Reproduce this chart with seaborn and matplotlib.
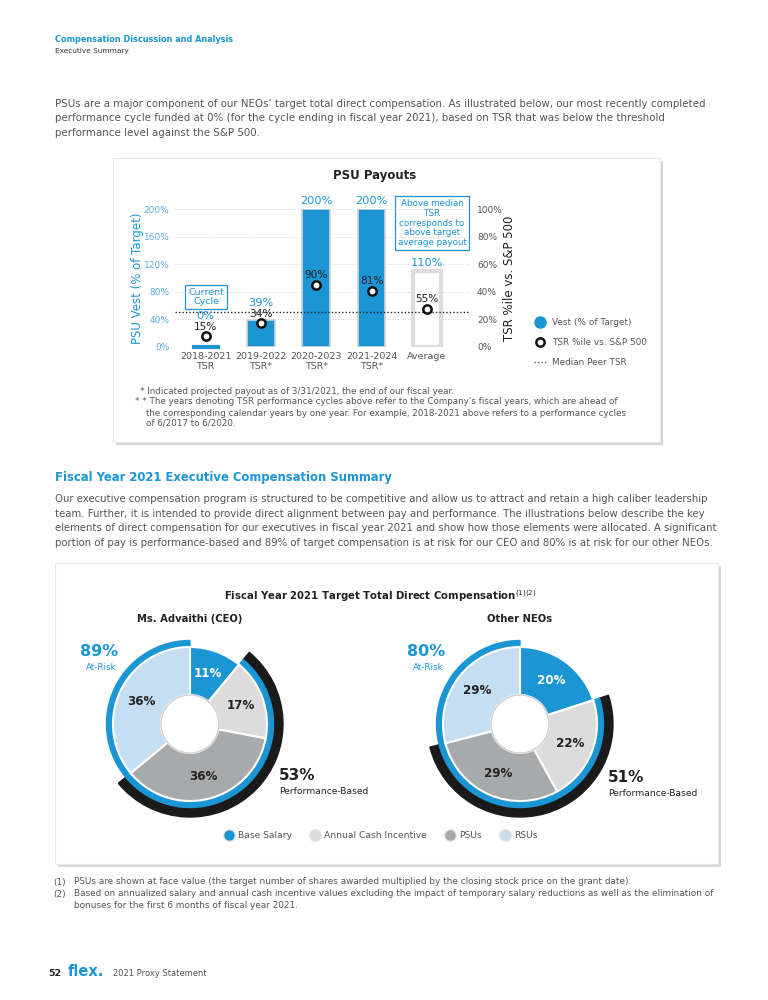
import numpy as np
import matplotlib
matplotlib.use('Agg')
import matplotlib.pyplot as plt
import seaborn as sns
from matplotlib.patches import Rectangle, Wedge, Circle
from matplotlib.lines import Line2D

# ---- data read from the page ----
cycles = ['2018-2021\nTSR', '2019-2022\nTSR*', '2020-2023\nTSR*', '2021-2024\nTSR*', 'Average']
vest_pct = [0, 39, 200, 200, 110]
tsr_pct = [15, 34, 90, 81, 55]
median_tsr = 50
left_ticks = [0, 40, 80, 120, 160, 200]
right_ticks = [0, 20, 40, 60, 80, 100]
psu_legend = ['Vest (% of Target)', 'TSR %ile vs. S&P 500', 'Median Peer TSR']

comp_parts = ['Base Salary', 'Annual Cash Incentive', 'PSUs', 'RSUs']
ceo_mix = [11, 17, 36, 36]
neo_mix = [20, 22, 29, 29]
ceo_at_risk, neo_at_risk = 89, 80
ceo_perf, neo_perf = 53, 51

BLUE = '#1b95d3'
LBLUE = '#5aaee0'
GRAY = '#555555'
DARK = '#222222'
part_colors = [BLUE, '#dcdcdc', '#a8a9ab', '#c6def1']

sns.set_theme(style='white')
plt.rcParams['font.family'] = ['DejaVu Sans']

fig = plt.figure(figsize=(7.68, 10), dpi=100)

# background axes in pixel units (y down)
bg = fig.add_axes([0, 0, 1, 1], zorder=0)
bg.set_xlim(0, 768)
bg.set_ylim(1000, 0)
bg.axis('off')


def fx(x):
    return x / 768


def fy(y):
    return 1 - y / 1000


def box(x0, y0, x1, y1):
    bg.add_patch(Rectangle((x0 + 3, y0 + 3), x1 - x0, y1 - y0, facecolor='#d6d6d6', edgecolor='none', zorder=0))
    bg.add_patch(Rectangle((x0, y0), x1 - x0, y1 - y0, facecolor='white', edgecolor='#e8e8e8', lw=0.8, zorder=1))


# ---- page text ----
bg.text(55, 40, 'Compensation Discussion and Analysis', color=BLUE, fontsize=5.9, fontweight='bold', va='center')
bg.text(55, 51, 'Executive Summary', color='#333333', fontsize=5.3, va='center')

para1 = ['PSUs are a major component of our NEOs’ target total direct compensation. As illustrated below, our most recently completed',
         'performance cycle funded at 0% (for the cycle ending in fiscal year 2021), based on TSR that was below the threshold',
         'performance level against the S&P 500.']
for i, line in enumerate(para1):
    bg.text(55, 104 + i * 14.4, line, color=GRAY, fontsize=7.42, va='center')

box(113, 158, 660, 442)
bg.text(375, 175, 'PSU Payouts', fontsize=8.5, fontweight='bold', color=DARK, ha='center', va='center')

# ---- PSU bar chart ----
ax = fig.add_axes([fx(175), fy(346.7), (470 - 175) / 768, (346.7 - 209) / 1000], zorder=2)
ax.patch.set_alpha(0)
sns.barplot(x=cycles, y=vest_pct, color=BLUE, width=0.5, saturation=1, ax=ax,
            edgecolor='#d4d4d4', linewidth=1.2)
ax.patches[0].set_edgecolor(BLUE)
ax.patches[0].set_linewidth(3)
ax.patches[0].set_clip_on(False)
ax.patches[4].set_facecolor('white')
ax.patches[4].set_edgecolor('#dddddd')
ax.patches[4].set_linewidth(3)

sns.scatterplot(x=cycles, y=tsr_pct, ax=ax, s=36, color='white', edgecolor='#111111',
                linewidth=1.8, zorder=5, legend=False)

for t in left_ticks[1:]:
    ax.axhline(t, color='#c8c8c8', ls=(0, (1, 2)), lw=0.6, zorder=0)
ax.axhline(median_tsr, color='#222222', ls=(0, (1, 1.5)), lw=1.0, zorder=1)

for i, (v, t) in enumerate(zip(vest_pct, tsr_pct)):
    ax.annotate(f'{t}%', (i, t), xytext=(0, 7), textcoords='offset points', ha='center', va='center',
                fontsize=7.6, color=DARK, zorder=6)
    ax.annotate(f'{v}%', (i, max(v, t + 17)), xytext=(0, 6), textcoords='offset points', ha='center',
                va='center', fontsize=8.2, color=BLUE, annotation_clip=False)

ax.set_ylim(0, 200)
ax.set_xlim(-0.555, 4.78)
ax.set_yticks(left_ticks)
ax.set_yticklabels([f'{t}%' for t in left_ticks], color=LBLUE, fontsize=6.5)
ax.tick_params(axis='both', length=0, pad=4)
ax.tick_params(axis='x', colors=GRAY, labelsize=6.8)
for lbl in ax.get_xticklabels():
    lbl.set_linespacing(1.15)
ax.set_xlabel('')
ax.set_ylabel('PSU Vest (% of Target)', color=BLUE, fontsize=8.5)
ax.yaxis.set_label_coords((144 - 175) / 295, 0.5)
sns.despine(ax=ax, left=True, bottom=True)

ax2 = ax.twinx()
ax2.set_ylim(0, 100)
ax2.set_yticks(right_ticks)
ax2.set_yticklabels([f'{t}%' for t in right_ticks], color=GRAY, fontsize=6.5)
ax2.tick_params(length=0, pad=5)
ax2.set_ylabel('TSR %ile vs. S&P 500', color=DARK, fontsize=8.5)
ax2.yaxis.set_label_coords((503 - 175) / 295, 0.5)
for s in ax2.spines.values():
    s.set_visible(False)

bg.text(206, 297, 'Current\nCycle', ha='center', va='center', color=BLUE, fontsize=6.8, linespacing=1.1,
        bbox=dict(boxstyle='square,pad=0.3', fc='white', ec=BLUE, lw=0.9), zorder=3)
bg.text(432, 223, 'Above median\nTSR\ncorresponds to\nabove target\naverage payout', ha='center', va='center',
        color=BLUE, fontsize=6.3, linespacing=1.1,
        bbox=dict(boxstyle='square,pad=0.3', fc='white', ec=BLUE, lw=0.9), zorder=3)

h_psu = [Line2D([], [], marker='o', ls='none', markersize=8, markerfacecolor=BLUE, markeredgecolor=BLUE),
         Line2D([], [], marker='o', ls='none', markersize=6, markerfacecolor='white', markeredgecolor='#111111',
                markeredgewidth=1.8),
         Line2D([], [], color='#555555', ls=(0, (1, 1.5)), lw=1)]
leg = fig.legend(h_psu, psu_legend, loc='upper left', bbox_to_anchor=(fx(526), fy(310)), frameon=False,
                 fontsize=6.4, labelspacing=1.25, handlelength=1.4, handletextpad=0.6)
for txt in leg.get_texts():
    txt.set_color(GRAY)

notes1 = [(140, 391, '* Indicated projected payout as of 3/31/2021, the end of our fiscal year.'),
          (135, 402, '* * The years denoting TSR performance cycles above refer to the Company\'s fiscal years, which are ahead of'),
          (146, 413, 'the corresponding calendar years by one year. For example, 2018-2021 above refers to a performance cycles'),
          (146, 423, 'of 6/2017 to 6/2020.')]
for x, y, s in notes1:
    bg.text(x, y, s, fontsize=6.3, color=GRAY, va='center', zorder=3)

# ---- section 2 ----
bg.text(55, 478, 'Fiscal Year 2021 Executive Compensation Summary', color=BLUE, fontsize=8.4, fontweight='bold',
        va='center')
para2 = ['Our executive compensation program is structured to be competitive and allow us to attract and retain a high caliber leadership',
         'team. Further, it is intended to provide direct alignment between pay and performance. The illustrations below describe the key',
         'elements of direct compensation for our executives in fiscal year 2021 and show how those elements were allocated. A significant',
         'portion of pay is performance-based and 89% of target compensation is at risk for our CEO and 80% is at risk for our other NEOs.']
for i, line in enumerate(para2):
    bg.text(55, 499 + i * 14.7, line, color=GRAY, fontsize=7.25, va='center')

box(55, 563, 718, 864)
bg.text(380, 596, 'Fiscal Year 2021 Target Total Direct Compensation$^{(1)(2)}$', fontsize=7.3,
        fontweight='bold', color=DARK, ha='center', va='center', zorder=3)
bg.text(190, 619, 'Ms. Advaithi (CEO)', fontsize=7.2, fontweight='bold', color=DARK, ha='center', va='center', zorder=3)
bg.text(520, 619, 'Other NEOs', fontsize=7.2, fontweight='bold', color=DARK, ha='center', va='center', zorder=3)

R_OUT, R_IN = 77, 29


def donut(cx, cy, mix, at_risk, perf):
    a = fig.add_axes([fx(cx - 100), fy(cy + 100), 200 / 768, 200 / 1000], zorder=2)
    a.pie(mix, colors=part_colors, startangle=90, counterclock=False, radius=R_OUT,
          wedgeprops=dict(width=R_OUT - R_IN, edgecolor='white', linewidth=1.5))
    a.set_xlim(-100, 100)
    a.set_ylim(-100, 100)
    a.set_aspect('equal')
    a.axis('off')
    start = 90 - 3.6 * mix[0]
    a.add_patch(Wedge((0, 0), 93, start - 3.6 * perf, start, width=10, color='#1a1a1a', zorder=0))
    a.add_patch(Wedge((0, 0), 83.5, start - 3.6 * at_risk, start, width=6.5, color=BLUE, zorder=0))
    a.add_patch(Circle((0, 0), R_IN, fc='white', ec='#d0d0d0', lw=1, zorder=3))
    cum = np.cumsum([0] + mix)
    for i, v in enumerate(mix):
        mid = np.deg2rad(90 - 3.6 * (cum[i] + v / 2))
        a.text(54 * np.cos(mid), 54 * np.sin(mid), f'{v}%', ha='center', va='center', fontsize=8.6,
               fontweight='bold', color='white' if i == 0 else DARK, zorder=4)


donut(190, 724, ceo_mix, ceo_at_risk, ceo_perf)
donut(520, 724, neo_mix, neo_at_risk, neo_perf)

bg.text(118, 651, f'{ceo_at_risk}%', color=BLUE, fontsize=11.5, fontweight='bold', ha='right', va='center', zorder=3)
bg.text(117, 668, 'At-Risk', color=BLUE, fontsize=6.3, ha='right', va='center', zorder=3)
bg.text(445, 651, f'{neo_at_risk}%', color=BLUE, fontsize=11.5, fontweight='bold', ha='right', va='center', zorder=3)
bg.text(444, 668, 'At-Risk', color=BLUE, fontsize=6.3, ha='right', va='center', zorder=3)
bg.text(279, 776, f'{ceo_perf}%', color=DARK, fontsize=11, fontweight='bold', va='center', zorder=3)
bg.text(279, 792, 'Performance-Based', color=DARK, fontsize=6.6, va='center', zorder=3)
bg.text(608, 777, f'{neo_perf}%', color=DARK, fontsize=11, fontweight='bold', va='center', zorder=3)
bg.text(608, 793, 'Performance-Based', color=DARK, fontsize=6.6, va='center', zorder=3)

h_comp = [Line2D([], [], marker='o', ls='none', markersize=8.5, markerfacecolor=c, markeredgecolor='#e6e6e6',
                 markeredgewidth=1) for c in part_colors]
leg2 = fig.legend(h_comp, comp_parts, loc='center', bbox_to_anchor=(fx(381), fy(836)), ncol=4, frameon=False,
                  fontsize=6.6, handlelength=1.0, handletextpad=0.5, columnspacing=2.0)
for txt in leg2.get_texts():
    txt.set_color(GRAY)

notes2 = [(53, 882, '(1)'), (74, 882, 'PSUs are shown at face value (the target number of shares awarded multiplied by the closing stock price on the grant date).'),
          (53, 894, '(2)'), (74, 894, 'Based on annualized salary and annual cash incentive values excluding the impact of temporary salary reductions as well as the elimination of'),
          (74, 906, 'bonuses for the first 6 months of fiscal year 2021.')]
for x, y, s in notes2:
    bg.text(x, y, s, fontsize=6.4, color=GRAY, va='center')

bg.text(48, 974, '52', fontsize=6.8, fontweight='bold', color=DARK, va='center')
bg.text(68, 972, 'flex.', fontsize=10.5, fontweight='bold', color=BLUE, va='center')
bg.text(113, 974, '2021 Proxy Statement', fontsize=6.0, color=GRAY, va='center')

fig.savefig('out.png', dpi=100)
